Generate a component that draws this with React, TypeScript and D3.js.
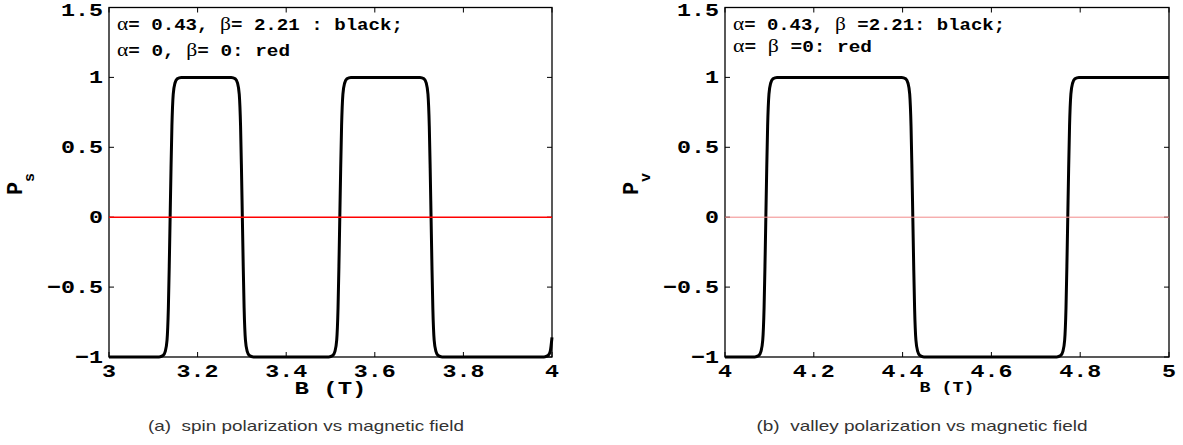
import React, { useEffect, useRef } from 'react';
import * as d3 from 'd3';

// spin polarization (panel a)
const spinField = [
  3.000, 3.113, 3.122, 3.127, 3.131, 3.134, 3.136, 3.138, 3.140, 3.142, 3.145, 3.149, 3.154, 3.163,
  3.276, 3.285, 3.290, 3.294, 3.297, 3.299, 3.301, 3.303, 3.305, 3.308, 3.312, 3.317, 3.326,
  3.496, 3.505, 3.510, 3.514, 3.517, 3.519, 3.521, 3.523, 3.525, 3.528, 3.532, 3.537, 3.546,
  3.702, 3.711, 3.716, 3.720, 3.723, 3.725, 3.727, 3.729, 3.731, 3.734, 3.738, 3.743, 3.752,
  3.982, 3.991, 3.996, 4.000,
];
const spinPol = [
  -1, -1, -0.99, -0.96, -0.88, -0.65, -0.35, 0, 0.35, 0.65, 0.88, 0.96, 0.99, 1,
  1, 0.99, 0.96, 0.88, 0.65, 0.35, 0, -0.35, -0.65, -0.88, -0.96, -0.99, -1,
  -1, -0.99, -0.96, -0.88, -0.65, -0.35, 0, 0.35, 0.65, 0.88, 0.96, 0.99, 1,
  1, 0.99, 0.96, 0.88, 0.65, 0.35, 0, -0.35, -0.65, -0.88, -0.96, -0.99, -1,
  -1, -0.99, -0.96, -0.86,
];

// valley polarization (panel b)
const valleyField = [
  4.000, 4.067, 4.076, 4.081, 4.085, 4.088, 4.090, 4.092, 4.094, 4.096, 4.099, 4.103, 4.108, 4.117,
  4.398, 4.407, 4.412, 4.416, 4.419, 4.421, 4.423, 4.425, 4.427, 4.430, 4.434, 4.439, 4.448,
  4.747, 4.756, 4.761, 4.765, 4.768, 4.770, 4.772, 4.774, 4.776, 4.779, 4.783, 4.788, 4.797,
  5.000,
];
const valleyPol = [
  -1, -1, -0.99, -0.96, -0.88, -0.65, -0.35, 0, 0.35, 0.65, 0.88, 0.96, 0.99, 1,
  1, 0.99, 0.96, 0.88, 0.65, 0.35, 0, -0.35, -0.65, -0.88, -0.96, -0.99, -1,
  -1, -0.99, -0.96, -0.88, -0.65, -0.35, 0, 0.35, 0.65, 0.88, 0.96, 0.99, 1,
  1,
];

// alpha = beta = 0 case
const spinZeroField = [3, 4];
const valleyZeroField = [4, 5];
const zeroPol = [0, 0];

const spinTicks = [3, 3.2, 3.4, 3.6, 3.8, 4];
const valleyTicks = [4, 4.2, 4.4, 4.6, 4.8, 5];
const polTicks = [-1, -0.5, 0, 0.5, 1, 1.5];

const spinLegend = ['α= 0.43, β= 2.21 : black;', 'α= 0, β= 0: red'];
const valleyLegend = ['α= 0.43, β =2.21: black;', 'α= β =0: red'];

const panels = [
  {
    field: spinField, pol: spinPol, zeroField: spinZeroField, ticks: spinTicks,
    left: 109, right: 552, sub: 's', legend: spinLegend, legendW: [286, 173], legendY: [30, 56],
    caption: '(a)  spin polarization vs magnetic field', captionW: 316, captionX: 306,
    xlabelSize: 19, xlabelW: 72, xlabelY: 394, red: '#ff0000', redW: 1.6,
  },
  {
    field: valleyField, pol: valleyPol, zeroField: valleyZeroField, ticks: valleyTicks,
    left: 725, right: 1169, sub: 'v', legend: valleyLegend, legendW: [272, 139], legendY: [30, 52],
    caption: '(b)  valley polarization vs magnetic field', captionW: 331, captionX: 922,
    xlabelSize: 15, xlabelW: 55, xlabelY: 392, red: '#f28a8a', redW: 1,
  },
];

const MONO = '"Liberation Mono", "Courier New", monospace';
const fmt = (v: number) => String(v).replace('-', '\u2212');

export default function App() {
  const ref = useRef<SVGSVGElement>(null);

  useEffect(() => {
    document.body.style.margin = '0';
    const svg = d3.select(ref.current);
    svg.selectAll('*').remove();
    const top = 7.5, bottom = 357;

    panels.forEach(p => {
      const x = d3.scaleLinear().domain([p.ticks[0], p.ticks[p.ticks.length - 1]]).range([p.left, p.right]);
      const y = d3.scaleLinear().domain([-1, 1.5]).range([bottom, top]);
      const line = d3.line<[number, number]>().x(d => x(d[0])).y(d => y(d[1]));
      const g = svg.append('g');

      // frame
      g.append('rect')
        .attr('x', p.left).attr('y', top)
        .attr('width', p.right - p.left).attr('height', bottom - top)
        .attr('fill', 'none').attr('stroke', '#000').attr('stroke-width', 1.3);

      // ticks inward on all four sides
      p.ticks.forEach(t => {
        [[bottom, bottom - 5], [top, top + 5]].forEach(([a, b]) =>
          g.append('line').attr('x1', x(t)).attr('x2', x(t)).attr('y1', a).attr('y2', b)
            .attr('stroke', '#000').attr('stroke-width', 1));
      });
      polTicks.forEach(t => {
        [[p.left, p.left + 5], [p.right, p.right - 5]].forEach(([a, b]) =>
          g.append('line').attr('x1', a).attr('x2', b).attr('y1', y(t)).attr('y2', y(t))
            .attr('stroke', '#000').attr('stroke-width', 1));
      });

      // black curve
      g.append('path')
        .datum(p.field.map((b, i) => [b, p.pol[i]] as [number, number]))
        .attr('d', line.curve(d3.curveMonotoneX))
        .attr('fill', 'none').attr('stroke', '#000').attr('stroke-width', 3)
        .attr('stroke-linejoin', 'round');

      // red zero line
      g.append('path')
        .datum(p.zeroField.map((b, i) => [b, zeroPol[i]] as [number, number]))
        .attr('d', line.curve(d3.curveLinear))
        .attr('fill', 'none').attr('stroke', p.red).attr('stroke-width', p.redW);

      // tick labels
      p.ticks.forEach(t => {
        const s = fmt(t);
        g.append('text').text(s)
          .attr('x', x(t)).attr('y', 377)
          .attr('text-anchor', 'middle')
          .attr('textLength', s.length * 14).attr('lengthAdjust', 'spacingAndGlyphs')
          .style('font-family', MONO).style('font-weight', 'bold').style('font-size', '19px');
      });
      polTicks.forEach(t => {
        const s = fmt(t);
        g.append('text').text(s)
          .attr('x', p.left - 6).attr('y', Math.max(y(t) + 6, 16))
          .attr('text-anchor', 'end')
          .attr('textLength', s.length * 14).attr('lengthAdjust', 'spacingAndGlyphs')
          .style('font-family', MONO).style('font-weight', 'bold').style('font-size', '19px');
      });

      // axis labels
      g.append('text').text('B (T)')
        .attr('x', (p.left + p.right) / 2).attr('y', p.xlabelY)
        .attr('text-anchor', 'middle')
        .attr('textLength', p.xlabelW).attr('lengthAdjust', 'spacingAndGlyphs')
        .style('font-family', MONO).style('font-weight', 'bold').style('font-size', `${p.xlabelSize}px`)
        .style('white-space', 'pre');

      const yl = g.append('text')
        .attr('transform', `translate(${p.left - 87},184) rotate(-90)`)
        .attr('text-anchor', 'middle')
        .style('font-family', MONO).style('font-weight', 'bold');
      yl.append('tspan').text('P').style('font-size', '22px');
      yl.append('tspan').text(p.sub).attr('dy', 12).style('font-size', '15px');

      // legend text
      p.legend.forEach((str, i) => {
        const t = g.append('text')
          .attr('x', p.left + 8).attr('y', p.legendY[i])
          .attr('textLength', p.legendW[i]).attr('lengthAdjust', 'spacingAndGlyphs')
          .style('white-space', 'pre').style('font-size', '16px');
        str.split(/([αβ])/).filter(s => s.length).forEach(s => {
          const greek = s === 'α' || s === 'β';
          t.append('tspan').text(s)
            .style('font-family', greek ? '"Liberation Serif", serif' : MONO)
            .style('font-weight', greek ? 'normal' : 'bold')
            .style('font-size', greek ? '18px' : '16px');
        });
      });

      // caption
      g.append('text').text(p.caption)
        .attr('x', p.captionX).attr('y', 431)
        .attr('text-anchor', 'middle')
        .attr('textLength', p.captionW).attr('lengthAdjust', 'spacingAndGlyphs')
        .style('white-space', 'pre')
        .style('font-family', '"Liberation Sans", Arial, sans-serif').style('font-size', '15px')
        .style('fill', '#333');
    });
  }, []);

  return <svg ref={ref} width={1183} height={445} style={{ display: 'block', background: '#fff' }} />;
}
